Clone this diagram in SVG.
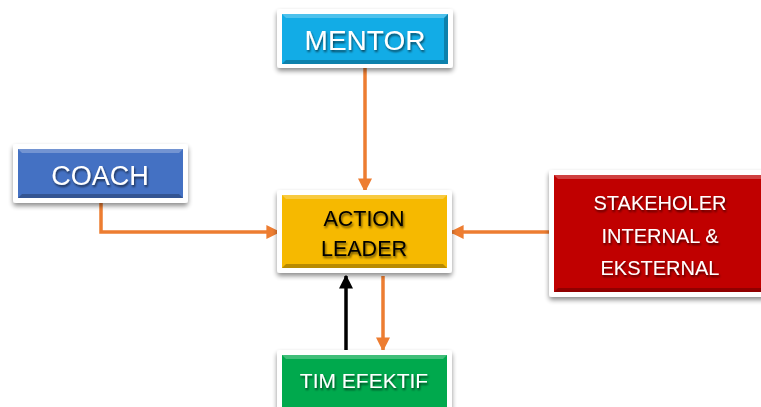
<svg xmlns="http://www.w3.org/2000/svg" width="761" height="407" viewBox="0 0 761 407">
<style>
.frame{fill:#ffffff;filter:url(#sh)}
.lbl{font-family:"Liberation Sans",Arial,sans-serif;text-anchor:middle;filter:url(#ts)}
.w{fill:#ffffff}
.k{fill:#000000}
.con{fill:none;stroke:#ED7D31;stroke-width:3.5}
.hi{fill:#ffffff;opacity:0.25}
.lo{fill:#000000;opacity:0.25}
</style>
<defs>
<filter id="sh" x="-20%" y="-20%" width="140%" height="150%">
<feGaussianBlur in="SourceAlpha" stdDeviation="2.5"/>
<feOffset dx="0" dy="3" result="b"/>
<feComponentTransfer><feFuncA type="linear" slope="0.45"/></feComponentTransfer>
<feMerge><feMergeNode/><feMergeNode in="SourceGraphic"/></feMerge>
</filter>
<filter id="ts" x="-10%" y="-20%" width="120%" height="150%">
<feGaussianBlur in="SourceAlpha" stdDeviation="1"/>
<feOffset dx="1" dy="1.5" result="b"/>
<feComponentTransfer><feFuncA type="linear" slope="0.6"/></feComponentTransfer>
<feMerge><feMergeNode/><feMergeNode in="SourceGraphic"/></feMerge>
</filter>
<marker id="ao" viewBox="0 0 10 10" refX="9" refY="5" markerWidth="4" markerHeight="4" orient="auto" markerUnits="strokeWidth">
<path d="M0,0 L10,5 L0,10 z" fill="#ED7D31"/>
</marker>
<marker id="ak" viewBox="0 0 10 10" refX="9" refY="5" markerWidth="4" markerHeight="4" orient="auto" markerUnits="strokeWidth">
<path d="M0,0 L10,5 L0,10 z" fill="#000000"/>
</marker>
</defs>

<g id="connectors">
<path class="con" d="M365,68 L365,191" marker-end="url(#ao)"/>
<path class="con" d="M101,203 L101,232 L279,232" marker-end="url(#ao)"/>
<path class="con" d="M549,232 L451,232" marker-end="url(#ao)"/>
<path class="con" d="M383,276 L383,350" marker-end="url(#ao)"/>
<path d="M346,351 L346,276" fill="none" stroke="#000000" stroke-width="3.5" marker-end="url(#ak)"/>
</g>

<g id="mentor">
<rect class="frame" x="277" y="9" width="176" height="59" rx="3"/>
<rect x="282" y="14" width="166" height="50" fill="#12ACE6"/>
<path class="hi" d="M282,14 L448,14 L444,18 L286,18 z"/>
<path class="lo" d="M282,64 L448,64 L444,60 L286,60 z"/>
<path class="lo" d="M448,14 L448,64 L444,60 L444,18 z" opacity="0.15"/>
<text class="lbl w" x="365" y="50" font-size="28">MENTOR</text>
</g>

<g id="coach">
<rect class="frame" x="13" y="144" width="175" height="59" rx="3"/>
<rect x="18" y="149" width="165" height="49" fill="#4471C3"/>
<path class="hi" d="M18,149 L183,149 L179,153 L22,153 z"/>
<path class="lo" d="M18,198 L183,198 L179,194 L22,194 z"/>
<text class="lbl w" x="100" y="185" font-size="27">COACH</text>
</g>

<g id="action-leader">
<rect class="frame" x="277" y="190" width="175" height="83" rx="3"/>
<rect x="282" y="195" width="165" height="73" fill="#F6B900"/>
<path class="hi" d="M282,195 L447,195 L443,199 L286,199 z"/>
<path class="lo" d="M282,268 L447,268 L443,264 L286,264 z"/>
<text class="lbl k" x="364" y="226" font-size="21.5">ACTION</text>
<text class="lbl k" x="364" y="256" font-size="21.5">LEADER</text>
</g>

<g id="stakeholder">
<rect class="frame" x="549" y="170" width="225" height="127" rx="3"/>
<rect x="554" y="175" width="215" height="117" fill="#C00000"/>
<path class="hi" d="M554,175 L769,175 L765,179 L558,179 z"/>
<path class="lo" d="M554,292 L769,292 L765,288 L558,288 z"/>
<text class="lbl w" x="660" y="210" font-size="20">STAKEHOLER</text>
<text class="lbl w" x="660" y="243" font-size="20">INTERNAL &amp;</text>
<text class="lbl w" x="660" y="275" font-size="20">EKSTERNAL</text>
</g>

<g id="tim-efektif">
<rect class="frame" x="277" y="350" width="175" height="70" rx="3"/>
<rect x="282" y="355" width="165" height="60" fill="#00A94D"/>
<path class="hi" d="M282,355 L447,355 L443,359 L286,359 z"/>
<text class="lbl w" x="364" y="388" font-size="21">TIM EFEKTIF</text>
</g>
</svg>
